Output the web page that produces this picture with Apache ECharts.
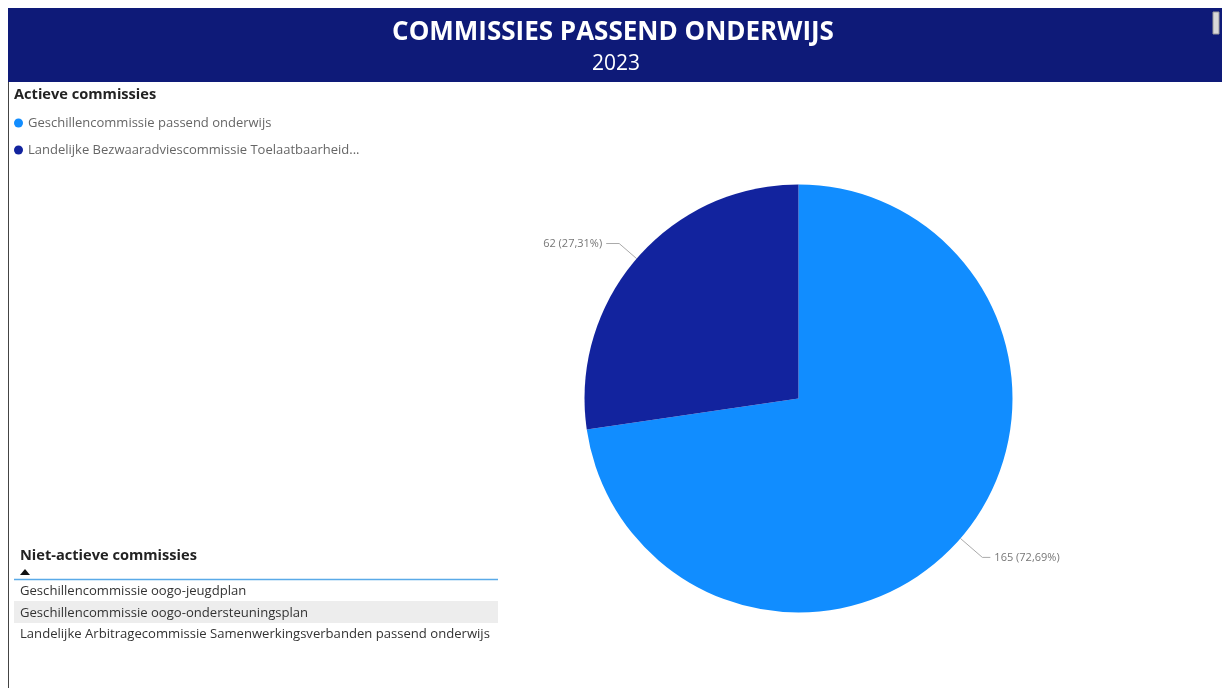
<!DOCTYPE html>
<html>
<head>
<meta charset="utf-8">
<script src="https://cdn.jsdelivr.net/npm/echarts@6/dist/echarts.min.js"></script>
<style>
html,body{margin:0;padding:0;background:#fff;}
#c{width:1222px;height:688px;}
</style>
</head>
<body>
<div id="c"></div>
<script>
const titleText = 'COMMISSIES PASSEND ONDERWIJS';
const yearText = '2023';
const legendTitle = 'Actieve commissies';
const categories = ['Geschillencommissie passend onderwijs', 'Landelijke Bezwaaradviescommissie Toelaatbaarheidsverklaringen'];
const values = [165, 62];
const colors = ['#118DFF', '#12239E'];
const tableTitle = 'Niet-actieve commissies';
const tableRows = ['Geschillencommissie oogo-jeugdplan', 'Geschillencommissie oogo-ondersteuningsplan', 'Landelijke Arbitragecommissie Samenwerkingsverbanden passend onderwijs'];

const FONT = '"Open Sans", "Noto Sans", sans-serif';
const chart = echarts.init(document.getElementById('c'));

const graphics = [
  {type:'rect', shape:{x:8,y:8,width:1214,height:74}, style:{fill:'#0E1A78'}},
  {type:'rect', shape:{x:1213,y:12,width:6,height:22}, style:{fill:'#D8D8D8', stroke:'#9a9a9a', lineWidth:1}},
  {type:'text', x:613, y:33, style:{text:titleText, fill:'#fff', font:'bold 26px '+FONT, textAlign:'center', textVerticalAlign:'middle'}},
  {type:'text', x:616, y:64, style:{text:yearText, fill:'#fff', font:'21px '+FONT, textAlign:'center', textVerticalAlign:'middle'}},
  {type:'line', shape:{x1:8.5,y1:82,x2:8.5,y2:688}, style:{stroke:'#444', lineWidth:1}},
  {type:'text', x:14, y:95, style:{text:legendTitle, fill:'#222', font:'bold 14.6px '+FONT, textVerticalAlign:'middle'}},
  {type:'text', x:20, y:556, style:{text:tableTitle, fill:'#222', font:'bold 14.6px '+FONT, textVerticalAlign:'middle'}},
  {type:'polygon', shape:{points:[[20,575],[25,569],[30,575]]}, style:{fill:'#111'}},
  {type:'line', shape:{x1:14,y1:579.5,x2:498,y2:579.5}, style:{stroke:'#5AAAE8', lineWidth:1.5}},
  {type:'rect', shape:{x:14,y:601,width:484,height:22}, style:{fill:'#EDEDED'}}
];
tableRows.forEach((r,i)=>{
  graphics.push({type:'text', x:20, y:591.5+i*21.5, style:{text:r, fill:'#333', font:'13.1px '+FONT, textVerticalAlign:'middle'}});
});

const lineLengths = [29, 23];
const lineLengths2 = [8, 13];

chart.setOption({
  animation:false,
  backgroundColor:'#fff',
  color:colors,
  graphic:graphics,
  legend:{
    orient:'vertical', left:14, top:116.5, padding:0, itemWidth:9, itemHeight:9, itemGap:14, icon:'circle',
    data:categories,
    textStyle:{color:'#666', fontSize:13, fontFamily:FONT, width:335, overflow:'truncate', ellipsis:'...'},
    selectedMode:false
  },
  series:[{
    type:'pie',
    center:[798.5,398.5],
    radius:[0,214],
    startAngle:90,
    clockwise:true,
    data:categories.map((n,i)=>({name:n, value:values[i], labelLine:{length:lineLengths[i], length2:lineLengths2[i]}})),
    label:{
      show:true, color:'#777', fontSize:11, fontFamily:FONT, distanceToLabelLine:4,
      formatter:p=>p.value+' ('+p.percent.toFixed(2).replace('.',',')+'%)'
    },
    labelLine:{show:true, length:25, length2:9, lineStyle:{color:'#aaa', width:1}},
    itemStyle:{borderWidth:0}
  }]
});
</script>
</body>
</html>
